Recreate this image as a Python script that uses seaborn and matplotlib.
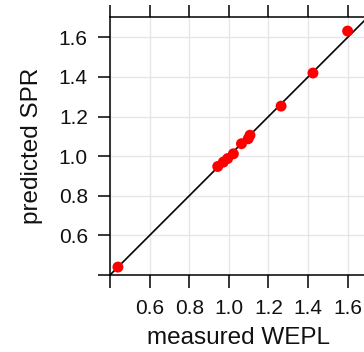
import numpy as np
import pandas as pd
import matplotlib
matplotlib.use("Agg")
import matplotlib.pyplot as plt
import seaborn as sns

# measured vs predicted values
measured_wepl = [0.44, 0.944, 0.972, 0.994, 1.023, 1.064, 1.098, 1.107, 1.264, 1.425, 1.60]
predicted_spr = [0.44, 0.948, 0.970, 0.988, 1.012, 1.063, 1.088, 1.106, 1.253, 1.420, 1.632]
tick_values = [0.4, 0.6, 0.8, 1.0, 1.2, 1.4, 1.6]
tick_labels = ["", "0.6", "0.8", "1.0", "1.2", "1.4", "1.6"]

sns.set_style("whitegrid")
plt.rcParams["font.family"] = ["Liberation Sans", "DejaVu Sans"]

df = pd.DataFrame({"measured WEPL": measured_wepl, "predicted SPR": predicted_spr})

fig = plt.figure(figsize=(3.64, 3.52), dpi=100)
ax = fig.add_axes([110 / 364, 77 / 352, 257.4 / 364, 258 / 352])

ax.plot([0.4, 1.8], [0.4, 1.8], color="black", lw=1.2, zorder=2)
sns.scatterplot(data=df, x="measured WEPL", y="predicted SPR", ax=ax,
                color="red", edgecolor="none", s=62, zorder=3)

ax.set_xlim(0.4, 1.7)
ax.set_ylim(0.4, 1.703)
ax.set_xticks(tick_values)
ax.set_xticklabels(tick_labels)
ax.set_yticks(tick_values)
ax.set_yticklabels(tick_labels)

ax.grid(True, color="#e6e6e6", lw=1.0)
for side in ["left", "bottom", "top"]:
    ax.spines[side].set_visible(True)
    ax.spines[side].set_color("black")
    ax.spines[side].set_linewidth(1.1)
ax.spines["right"].set_visible(False)

ax.tick_params(axis="both", which="major", direction="out", length=9,
               width=1.1, color="black", labelsize=15,
               labelcolor="#111111")
ax.tick_params(axis="x", top=True, labeltop=False, bottom=True, pad=8)
ax.tick_params(axis="y", left=True, right=False, pad=7)

ax.set_xlabel("measured WEPL", fontsize=17.5, labelpad=7, color="#111111")
ax.set_ylabel("predicted SPR", fontsize=17.5, labelpad=11, color="#111111")

fig.savefig("out.png", dpi=100)
